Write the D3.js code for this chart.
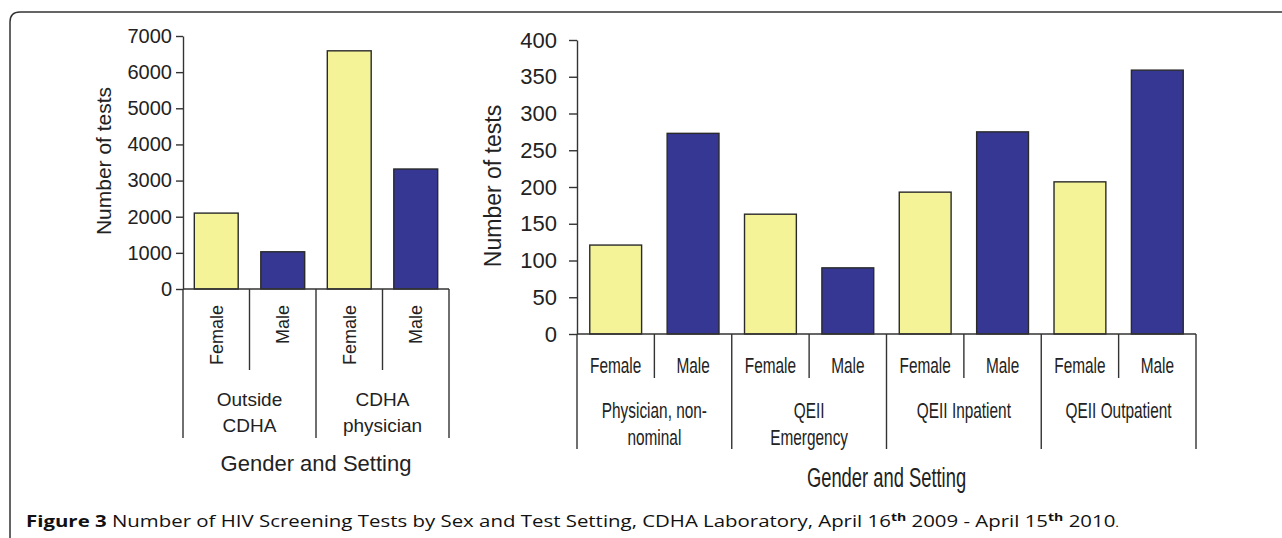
<!DOCTYPE html>
<html lang="en">
<head>
<meta charset="UTF-8">
<title>HIV Screening Tests by Sex and Test Setting</title>
<script src="https://d3js.org/d3.v7.min.js"></script>
<style>
  body { margin: 0; background: #fff; }
  svg { display: block; font-family: "Liberation Sans", Arial, sans-serif; }
  .bar { stroke: #2a2a2a; stroke-width: 1.4; }
  .axis path, .axis line { stroke: #333; stroke-width: 1.4; }
  .axis text { fill: #222; }
</style>
</head>
<body>
<svg width="1282" height="538"></svg>
<script>
// ---- data ----
const sexes = ["Female", "Male"];

const leftGroups = [["Outside", "CDHA"], ["CDHA", "physician"]];
const leftValues = [2100, 1030, 6590, 3320];
const leftTicks = [0, 1000, 2000, 3000, 4000, 5000, 6000, 7000];

const rightGroups = [["Physician, non-", "nominal"], ["QEII", "Emergency"], ["QEII Inpatient"], ["QEII Outpatient"]];
const rightValues = [121, 273, 163, 90, 193, 275, 207, 359];
const rightTicks = [0, 50, 100, 150, 200, 250, 300, 350, 400];

const yTitle = "Number of tests";
const xTitle = "Gender and Setting";

const colors = { Female: "#f5f398", Male: "#353793" };

const svg = d3.select("svg");

// frame
svg.append("path")
  .attr("d", "M10,540 L10,22 Q10,12 20,12 L1290,12")
  .attr("fill", "none").attr("stroke", "#333").attr("stroke-width", 1.5);

// text helper with horizontal squeeze
function label(g, txt, x, y, size, sx, opts = {}) {
  const t = g.append("text")
    .attr("transform", `translate(${x},${y})${opts.rotate ? " rotate(" + opts.rotate + ")" : ""} scale(${sx},1)`)
    .attr("text-anchor", opts.anchor || "middle")
    .attr("dy", "0.36em")
    .attr("font-size", size)
    .attr("fill", "#222")
    .text(txt);
  return t;
}

function drawChart(cfg) {
  const g = svg.append("g");
  const keys = [];
  cfg.groups.forEach((_, gi) => sexes.forEach(s => keys.push(gi + "|" + s)));

  const x = d3.scaleBand().domain(keys).range([cfg.x0, cfg.x1])
    .paddingInner(cfg.pad).paddingOuter(cfg.pad / 2);
  const y = d3.scaleLinear().domain([0, d3.max(cfg.ticks)]).range([cfg.y0, cfg.y1]);

  // bars
  g.selectAll(".bar").data(cfg.values).join("rect")
    .attr("class", "bar")
    .attr("x", (d, i) => x(keys[i]))
    .attr("width", x.bandwidth())
    .attr("y", d => y(d))
    .attr("height", d => y(0) - y(d))
    .attr("fill", (d, i) => colors[sexes[i % 2]]);

  // y axis
  const ya = g.append("g").attr("class", "axis")
    .attr("transform", `translate(${cfg.x0},0)`)
    .call(d3.axisLeft(y).tickValues(cfg.ticks).tickSize(cfg.tickSize)
      .tickSizeOuter(0).tickPadding(cfg.tickPad).tickFormat(d3.format("d")));
  ya.selectAll("text").attr("font-size", cfg.tickFont).attr("font-family", "Liberation Sans, Arial, sans-serif");

  // x baseline
  g.append("line").attr("x1", cfg.x0).attr("x2", cfg.x1)
    .attr("y1", y(0)).attr("y2", y(0))
    .attr("stroke", "#333").attr("stroke-width", 1.4);

  // separators
  const step = x.step();
  keys.forEach((k, i) => {
    const bx = cfg.x0 + i * step;
    g.append("line").attr("x1", bx).attr("x2", bx)
      .attr("y1", y(0)).attr("y2", i % 2 === 0 ? cfg.groupSepEnd : cfg.sexSepEnd)
      .attr("stroke", "#333").attr("stroke-width", 1.4);
  });
  g.append("line").attr("x1", cfg.x1).attr("x2", cfg.x1)
    .attr("y1", y(0)).attr("y2", cfg.groupSepEnd)
    .attr("stroke", "#333").attr("stroke-width", 1.4);

  // sex labels
  keys.forEach((k, i) => {
    const cx = x(k) + x.bandwidth() / 2;
    if (cfg.rotateSex) {
      label(g, sexes[i % 2], cx, cfg.sexY, cfg.sexFont, 1, { rotate: -90, anchor: "end" });
    } else {
      label(g, sexes[i % 2], cx, cfg.sexY, cfg.sexFont, cfg.sx);
    }
  });

  // group labels
  cfg.groups.forEach((lines, gi) => {
    const cx = cfg.x0 + (gi * 2 + 1) * step;
    lines.forEach((ln, li) => label(g, ln, cx, cfg.groupY[li], cfg.groupFont, cfg.sx));
  });

  // titles
  label(g, xTitle, (cfg.x0 + cfg.x1) / 2, cfg.xTitleY, cfg.xTitleFont, cfg.titleSx);
  label(g, yTitle, cfg.yTitleX, cfg.yTitleY, cfg.yTitleFont, 1, { rotate: -90 });
}

drawChart({
  groups: leftGroups, values: leftValues, ticks: leftTicks,
  x0: 183, x1: 449, y0: 289, y1: 36, pad: 0.34,
  tickSize: 7, tickPad: 4, tickFont: 20,
  sexSepEnd: 370, groupSepEnd: 438,
  rotateSex: true, sexY: 305, sexFont: 18,
  groupY: [399, 425], groupFont: 19, sx: 1,
  xTitleY: 463, xTitleFont: 22, titleSx: 1,
  yTitleX: 103, yTitleY: 161, yTitleFont: 21
});

drawChart({
  groups: rightGroups, values: rightValues, ticks: rightTicks,
  x0: 577, x1: 1196, y0: 334, y1: 40, pad: 0.33,
  tickSize: 8, tickPad: 12, tickFont: 22,
  sexSepEnd: 378, groupSepEnd: 449,
  rotateSex: false, sexY: 365, sexFont: 22,
  groupY: [410, 437], groupFont: 22, sx: 0.7,
  xTitleY: 477, xTitleFont: 27, titleSx: 0.68,
  yTitleX: 493, yTitleY: 186, yTitleFont: 23
});

// caption
const cap = svg.append("text")
  .attr("font-family", "'Open Sans', 'Noto Sans', sans-serif")
  .attr("font-size", 16).attr("fill", "#111");
cap.append("tspan").attr("font-weight", "bold").text("Figure 3 ");
cap.append("tspan").text("Number of HIV Screening Tests by Sex and Test Setting, CDHA Laboratory, April 16");
cap.append("tspan").attr("font-size", 11).attr("font-weight", "bold").attr("dy", -6).text("th");
cap.append("tspan").attr("dy", 6).text(" 2009 - April 15");
cap.append("tspan").attr("font-size", 11).attr("font-weight", "bold").attr("dy", -6).text("th");
cap.append("tspan").attr("dy", 6).text(" 2010");
cap.append("tspan").attr("font-size", 11).text(".");
const capW = cap.node().getComputedTextLength();
const capSx = (1120 - 26) / capW;
cap.attr("transform", `translate(26,527) scale(${capSx},1)`);
</script>
</body>
</html>
